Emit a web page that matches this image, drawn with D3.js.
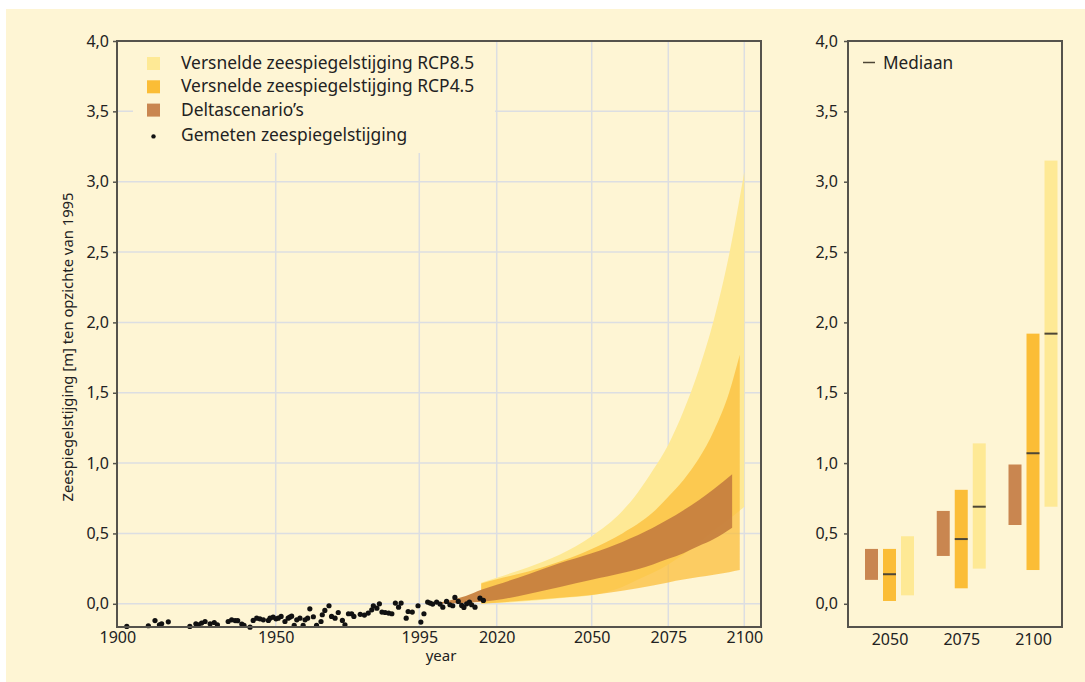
<!DOCTYPE html>
<html>
<head>
<meta charset="utf-8">
<script src="https://cdn.jsdelivr.net/npm/d3@7"></script>
<style>
  body { margin: 0; background: #fff; }
  text { font-family: "Noto Sans", sans-serif; fill: #222; }
</style>
</head>
<body>
<svg id="chart" width="1085" height="682"></svg>
<script>
// ---- data ----

// measured sea level, m relative to 1995
const measuredYears = [
  1903.0, 1909.8, 1911.9, 1913.3, 1914.0, 1916.1, 1922.9, 1924.8,
  1925.6, 1926.6, 1927.7, 1929.3, 1930.6, 1931.6, 1935.0, 1936.1,
  1937.2, 1938.0, 1939.3, 1940.0, 1941.9, 1942.9, 1944.0, 1945.0,
  1946.1, 1947.7, 1948.2, 1949.2, 1950.1, 1950.8, 1951.7, 1952.9,
  1953.9, 1954.4, 1955.0, 1955.8, 1956.6, 1957.6, 1958.6, 1959.2,
  1960.0, 1960.7, 1961.8, 1962.8, 1964.2, 1964.6, 1965.4, 1966.7,
  1967.5, 1968.6, 1969.6, 1970.9, 1971.7, 1972.8, 1973.8, 1974.5,
  1976.5, 1977.8, 1979.0, 1980.1, 1980.6, 1981.7, 1982.5, 1983.3,
  1984.3, 1985.4, 1986.4, 1987.5, 1988.5, 1989.3, 1990.9, 1991.5,
  1992.8, 1994.6, 1995.5, 1996.5, 1997.7, 1998.5, 1999.3, 2000.6,
  2001.7, 2002.6, 2003.8, 2004.9, 2005.8, 2006.5, 2007.6, 2008.7,
  2009.4, 2010.3, 2011.2, 2011.9, 2013.0, 2014.6, 2015.7
];
const measuredValues = [
  -0.161, -0.156, -0.119, -0.149, -0.142, -0.128, -0.161, -0.142,
  -0.149, -0.137, -0.126, -0.142, -0.133, -0.149, -0.126, -0.114,
  -0.119, -0.120, -0.144, -0.154, -0.166, -0.118, -0.102, -0.107,
  -0.114, -0.118, -0.102, -0.095, -0.107, -0.102, -0.090, -0.126,
  -0.102, -0.095, -0.088, -0.154, -0.114, -0.102, -0.154, -0.114,
  -0.102, -0.036, -0.092, -0.154, -0.126, -0.078, -0.047, -0.014,
  -0.090, -0.102, -0.062, -0.118, -0.149, -0.071, -0.071, -0.090,
  -0.075, -0.080, -0.066, -0.043, -0.014, -0.031, 0.000, -0.059,
  -0.062, -0.066, -0.071, 0.005, -0.024, 0.005, -0.102, -0.055,
  -0.059, -0.014, -0.130, -0.071, 0.012, 0.005, -0.002, 0.012,
  -0.002, -0.024, 0.017, -0.007, -0.014, 0.045, 0.017, -0.012,
  -0.026, 0.000, 0.012, -0.007, -0.024, 0.040, 0.024
];

// projection bands
const rcp85Years = [2015, 2020, 2030, 2040, 2050, 2060, 2065, 2070, 2075, 2080, 2085, 2090, 2095, 2100];
const rcp85Low   = [0, 0.005, 0.02, 0.04, 0.06, 0.12, 0.17, 0.22, 0.28, 0.35, 0.43, 0.52, 0.60, 0.69];
const rcp85High  = [0.15, 0.185, 0.26, 0.35, 0.48, 0.66, 0.79, 0.95, 1.13, 1.37, 1.66, 2.02, 2.48, 3.07];

const rcp45Years = [2015, 2020, 2030, 2040, 2050, 2060, 2070, 2075, 2080, 2085, 2090, 2095, 2098.5];
const rcp45Low   = [0, 0.008, 0.025, 0.043, 0.063, 0.093, 0.13, 0.152, 0.172, 0.19, 0.207, 0.225, 0.24];
const rcp45High  = [0.145, 0.175, 0.23, 0.30, 0.39, 0.50, 0.65, 0.76, 0.88, 1.03, 1.23, 1.50, 1.77];

const deltaYears = [2000, 2005, 2010, 2015, 2020, 2030, 2040, 2050, 2060, 2070, 2075, 2080, 2085, 2090, 2096];
const deltaLow   = [0, 0.003, 0.008, 0.015, 0.027, 0.07, 0.12, 0.17, 0.218, 0.28, 0.32, 0.36, 0.41, 0.46, 0.54];
const deltaHigh  = [0, 0.025, 0.055, 0.10, 0.135, 0.21, 0.29, 0.36, 0.44, 0.54, 0.60, 0.665, 0.735, 0.815, 0.92];

// right panel ranges
const boxGroups = ["2050", "2075", "2100"];
const boxDeltaLow = [0.17, 0.34, 0.56];
const boxDeltaHigh = [0.39, 0.66, 0.99];
const boxRcp45Low = [0.02, 0.11, 0.24];
const boxRcp45High = [0.39, 0.81, 1.92];
const boxRcp45Median = [0.21, 0.46, 1.07];
const boxRcp85Low = [0.06, 0.25, 0.69];
const boxRcp85High = [0.48, 1.14, 3.15];
const boxRcp85Median = [null, 0.69, 1.92];

// ticks
const yTicks = [0, 0.5, 1, 1.5, 2, 2.5, 3, 3.5, 4];
const xTicks = [1900, 1950, 1995, 2020, 2050, 2075, 2100];

const legendLabels = [
  "Versnelde zeespiegelstijging RCP8.5",
  "Versnelde zeespiegelstijging RCP4.5",
  "Deltascenario\u2019s",
  "Gemeten zeespiegelstijging"
];

// ---- styles ----
const BG = "#fef5d4";
const GRID = "#dcdee2";
const AXIS = "#55534c";
const YELLOW = "#fee995";
const ORANGE = "#fbbd36";
const BROWN = "#c98650";
const BROWN_BAND = "#c7813f";

const fmt = d3.formatLocale({ decimal: ",", thousands: ".", grouping: [3], currency: ["", ""] }).format(".1f");

const svg = d3.select("#chart");
svg.append("rect")
  .attr("x", 6).attr("y", 9)
  .attr("width", 1079).attr("height", 673)
  .attr("fill", BG);

// shared vertical scale
const y = d3.scaleLinear().domain([-0.165, 4]).range([627, 41]);

// ---- left panel ----
const L = { left: 117, right: 761, top: 41, bottom: 627 };
const x = d3.scaleLinear()
  .domain(xTicks)
  .range([117.3, 275.7, 419.3, 496.7, 591.7, 668.3, 744.3]);

// grid
svg.append("g")
  .selectAll("line")
  .data(yTicks.filter((v) => v < 4))
  .join("line")
  .attr("x1", L.left).attr("x2", L.right)
  .attr("y1", (d) => y(d)).attr("y2", (d) => y(d))
  .attr("stroke", GRID).attr("stroke-width", 1.5);
svg.append("g")
  .selectAll("line")
  .data(xTicks.filter((t) => t > 1900))
  .join("line")
  .attr("x1", (d) => x(d)).attr("x2", (d) => x(d))
  .attr("y1", L.top).attr("y2", L.bottom)
  .attr("stroke", GRID).attr("stroke-width", 1.5);

// legend backdrop hides the grid behind it
svg.append("rect")
  .attr("x", 133).attr("y", L.top)
  .attr("width", 362).attr("height", 112)
  .attr("fill", BG);

const toBand = (years, low, high) => years.map((yr, i) => ({ year: yr, low: low[i], high: high[i] }));
const area = d3.area()
  .curve(d3.curveMonotoneX)
  .x((d) => x(d.year))
  .y0((d) => y(d.low))
  .y1((d) => y(d.high));

svg.append("path").attr("d", area(toBand(rcp85Years, rcp85Low, rcp85High))).attr("fill", YELLOW);
svg.append("path").attr("d", area(toBand(rcp45Years, rcp45Low, rcp45High))).attr("fill", ORANGE).attr("fill-opacity", 0.72);
svg.append("path").attr("d", area(toBand(deltaYears, deltaLow, deltaHigh))).attr("fill", BROWN_BAND).attr("fill-opacity", 0.95);

// measured dots
svg.append("g")
  .selectAll("circle")
  .data(measuredYears.map((yr, i) => [yr, measuredValues[i]]))
  .join("circle")
  .attr("cx", (d) => x(d[0]))
  .attr("cy", (d) => y(d[1]))
  .attr("r", 2.6)
  .attr("fill", "#111");

// frame
svg.append("rect")
  .attr("x", L.left).attr("y", L.top)
  .attr("width", L.right - L.left).attr("height", L.bottom - L.top)
  .attr("fill", "none").attr("stroke", AXIS).attr("stroke-width", 2);

const styleAxis = (g, size) => {
  g.select(".domain").remove();
  g.selectAll(".tick line").attr("stroke", AXIS).attr("stroke-width", 1.5);
  g.selectAll("text").style("font-size", size + "px").attr("fill", "#222");
};

svg.append("g")
  .attr("transform", `translate(${L.left},0)`)
  .call(d3.axisLeft(y).tickValues(yTicks).tickFormat(fmt).tickSize(4).tickPadding(4))
  .call((g) => styleAxis(g, 16));

svg.append("g")
  .attr("transform", `translate(0,${L.bottom})`)
  .call(d3.axisBottom(x).tickValues(xTicks).tickFormat(d3.format("d")).tickSize(0).tickPadding(5))
  .call((g) => styleAxis(g, 16));

svg.append("text")
  .attr("transform", "translate(68,347) rotate(-90)")
  .attr("text-anchor", "middle")
  .attr("dy", "0.35em")
  .style("font-size", "14.8px")
  .text("Zeespiegelstijging [m] ten opzichte van 1995");

svg.append("text")
  .attr("x", 441).attr("y", 661)
  .attr("text-anchor", "middle")
  .style("font-size", "15px")
  .text("year");

// legend
const legendColors = [YELLOW, ORANGE, BROWN, null];
const legend = svg.append("g")
  .selectAll("g")
  .data(legendLabels)
  .join("g")
  .attr("transform", (d, i) => `translate(0,${69 + i * 23.3 + (i === 3 ? 2.5 : 0)})`);
legend.filter((d, i) => legendColors[i] != null)
  .append("rect")
  .attr("x", 147).attr("y", -12)
  .attr("width", 13).attr("height", 13)
  .attr("fill", (d, i) => legendColors[i]);
legend.filter((d, i) => legendColors[i] == null)
  .append("circle")
  .attr("cx", 153.5).attr("cy", -5)
  .attr("r", 2.2)
  .attr("fill", "#111");
legend.append("text")
  .attr("x", 181).attr("y", 0)
  .style("font-size", "17.4px")
  .text((d) => d);

// ---- right panel ----
const R = { left: 848, right: 1062, top: 41, bottom: 627 };
const groupX = d3.scalePoint().domain(boxGroups).range([889.5, 1033]);
const seriesX = d3.scaleBand()
  .domain(["delta", "rcp45", "rcp85"])
  .range([-29.5, 29.5])
  .paddingInner(5 / 18)
  .paddingOuter(5 / 18);
const seriesColor = { delta: BROWN, rcp45: ORANGE, rcp85: YELLOW };

const boxes = boxGroups.flatMap((g, i) => [
  { group: g, series: "delta", low: boxDeltaLow[i], high: boxDeltaHigh[i], median: null },
  { group: g, series: "rcp45", low: boxRcp45Low[i], high: boxRcp45High[i], median: boxRcp45Median[i] },
  { group: g, series: "rcp85", low: boxRcp85Low[i], high: boxRcp85High[i], median: boxRcp85Median[i] }
]);

svg.append("g")
  .selectAll("rect")
  .data(boxes)
  .join("rect")
  .attr("x", (d) => groupX(d.group) + seriesX(d.series))
  .attr("width", seriesX.bandwidth())
  .attr("y", (d) => y(d.high))
  .attr("height", (d) => y(d.low) - y(d.high))
  .attr("fill", (d) => seriesColor[d.series]);

svg.append("g")
  .selectAll("line")
  .data(boxes.filter((d) => d.median != null))
  .join("line")
  .attr("x1", (d) => groupX(d.group) + seriesX(d.series))
  .attr("x2", (d) => groupX(d.group) + seriesX(d.series) + seriesX.bandwidth())
  .attr("y1", (d) => y(d.median))
  .attr("y2", (d) => y(d.median))
  .attr("stroke", "#4d4636")
  .attr("stroke-width", 2);

svg.append("rect")
  .attr("x", R.left).attr("y", R.top)
  .attr("width", R.right - R.left).attr("height", R.bottom - R.top)
  .attr("fill", "none").attr("stroke", AXIS).attr("stroke-width", 2);

svg.append("g")
  .attr("transform", `translate(${R.left},0)`)
  .call(d3.axisLeft(y).tickValues(yTicks).tickFormat(fmt).tickSize(4).tickPadding(6))
  .call((g) => styleAxis(g, 16));

svg.append("g")
  .attr("transform", `translate(0,${R.bottom})`)
  .call(d3.axisBottom(groupX).tickSize(0).tickPadding(7))
  .call((g) => styleAxis(g, 16));

// median legend
svg.append("line")
  .attr("x1", 863).attr("x2", 875)
  .attr("y1", 62.5).attr("y2", 62.5)
  .attr("stroke", "#4d4636").attr("stroke-width", 1.5);
svg.append("text")
  .attr("x", 883).attr("y", 69)
  .style("font-size", "17.2px")
  .text("Mediaan");
</script>
</body>
</html>
